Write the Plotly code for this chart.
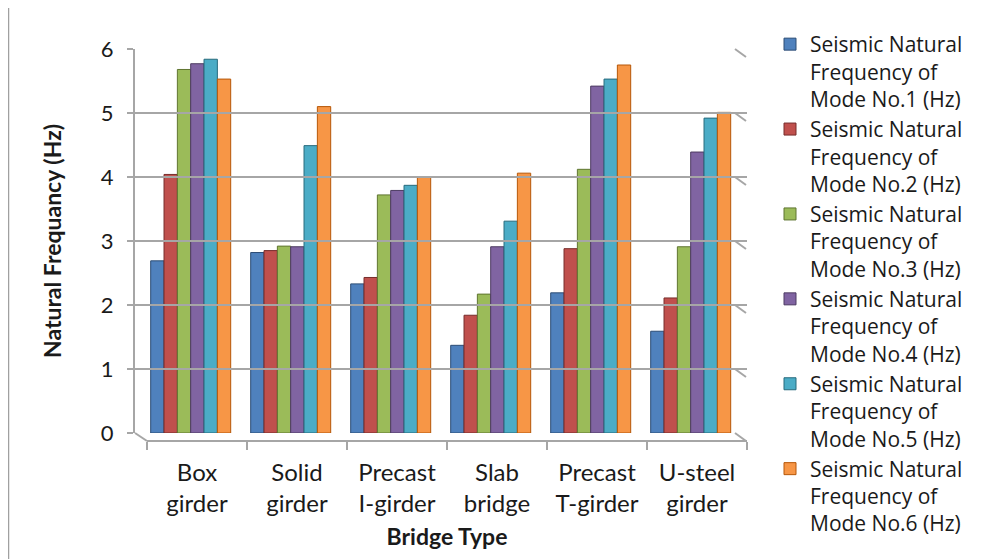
import plotly.graph_objects as go

categories = ["Box<br>girder", "Solid<br>girder", "Precast<br>I-girder",
              "Slab<br>bridge", "Precast<br>T-girder", "U-steel<br>girder"]
mode1 = [2.69, 2.82, 2.33, 1.37, 2.19, 1.59]
mode2 = [4.04, 2.85, 2.43, 1.84, 2.88, 2.11]
mode3 = [5.68, 2.92, 3.72, 2.17, 4.12, 2.91]
mode4 = [5.77, 2.91, 3.79, 2.91, 5.42, 4.39]
mode5 = [5.84, 4.49, 3.87, 3.31, 5.53, 4.92]
mode6 = [5.53, 5.10, 4.00, 4.06, 5.75, 5.01]
series_names = [f"Seismic Natural<br>Frequency of<br>Mode No.{i} (Hz)" for i in range(1, 7)]
y_ticks = [0, 1, 2, 3, 4, 5, 6]

series = [mode1, mode2, mode3, mode4, mode5, mode6]
colors = ["#4F81BD", "#C0504D", "#9BBB59", "#8064A2", "#4BACC6", "#F79646"]
lines = ["#2C4D75", "#772C2A", "#5F7530", "#4D3B62", "#276A7C", "#B65708"]

OFF = 8  # page body margin of the browser
W, H = 992 - OFF, 559 - OFF
# plot area in page pixels (reference coordinates)
L, R, T, B = 135, 747, 49, 441
pw, ph = R - L, B - T
FONT = "Lato"
LEGFONT = "Open Sans"
GRID = "#A6A6A6"
TXT = "#1A1A1A"

def px(x):
    return (x - L) / pw

def py(y):
    return (B - y) / ph

fig = go.Figure()
for name, vals, c, lc in zip(series_names, series, colors, lines):
    fig.add_trace(go.Bar(x=categories, y=vals, name=name,
                         marker=dict(color=c, line=dict(color=lc, width=1)),
                         xaxis="x", yaxis="y"))

fig.add_trace(go.Scatter(x=categories, y=[0] * len(categories), mode="markers",
                         marker=dict(opacity=0), showlegend=False, hoverinfo="skip",
                         xaxis="x2", yaxis="y"))

y0px = 433
unit = 64.0
shapes = []
shapes.append(dict(type="line", xref="paper", yref="paper",
                   x0=px(135), y0=py(433), x1=px(147), y1=py(441),
                   line=dict(color=GRID, width=2)))
for v in y_ticks:
    yy = y0px - unit * v
    shapes.append(dict(type="line", xref="paper", yref="paper",
                       x0=px(735), y0=py(yy), x1=px(746), y1=py(yy + 8),
                       line=dict(color=GRID, width=2)))
shapes.append(dict(type="line", xref="paper", yref="paper",
                   x0=px(8.5), y0=py(OFF), x1=px(8.5), y1=py(559),
                   line=dict(color="#A0A0A0", width=1.5)))

fig.update_layout(
    width=W, height=H, autosize=False,
    margin=dict(l=L - OFF, r=992 - R, t=T - OFF, b=559 - B, pad=0, autoexpand=False),
    paper_bgcolor="white", plot_bgcolor="rgba(0,0,0,0)",
    font=dict(family=FONT, color=TXT),
    barmode="group", bargap=0.2, bargroupgap=0.0,
    xaxis=dict(domain=[0, px(735)], type="category", range=[-0.557, 5.443],
               showticklabels=False, showgrid=False, showline=False, ticks="",
               anchor="y", fixedrange=True),
    xaxis2=dict(domain=[px(147), 1], type="category", range=[-0.5, 5.5],
                anchor="free", position=0, tickson="boundaries",
                ticks="outside", ticklen=8, tickwidth=2, tickcolor=GRID,
                showline=True, linecolor=GRID, linewidth=2, showgrid=False,
                ticklabelstandoff=10,
                tickfont=dict(family=FONT, size=24, color=TXT),
                title=dict(text="<b>Bridge Type</b>", standoff=12,
                           font=dict(family=FONT, size=23, color=TXT))),
    yaxis=dict(domain=[py(433), 1], range=[0, 6], tickvals=y_ticks,
               showgrid=True, gridcolor=GRID, gridwidth=2, zeroline=False,
               showline=True, linecolor=GRID, linewidth=2,
               ticks="outside", ticklen=6, tickwidth=2, tickcolor=GRID,
               ticklabelstandoff=9,
               tickfont=dict(family=FONT, size=22, color=TXT),
               title=dict(text="<b>Natural Frequancy (Hz)</b>", standoff=33,
                          font=dict(family=FONT, size=23, color=TXT))),
    legend=dict(xref="container", yref="container",
                x=762 / W, y=1 - 16 / H, xanchor="left", yanchor="top",
                font=dict(family=LEGFONT, size=21, color=TXT),
                valign="top", tracegroupgap=0, bgcolor="rgba(0,0,0,0)",
                itemwidth=30, maxheight=540),
    shapes=shapes,
    showlegend=True,
)

fig.write_html("out.html")
